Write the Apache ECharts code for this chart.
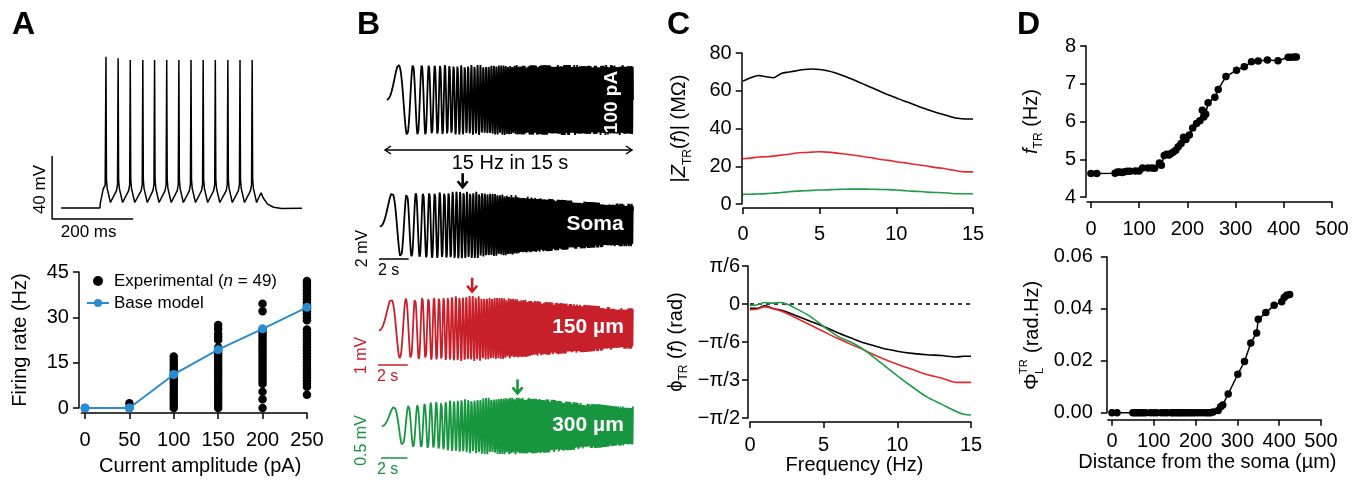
<!DOCTYPE html>
<html>
<head>
<meta charset="utf-8">
<script src="https://cdn.jsdelivr.net/npm/echarts@6/dist/echarts.min.js"></script>
<style>
  html, body { margin: 0; padding: 0; background: #fff; }
  #chart { width: 1365px; height: 481px; }
</style>
</head>
<body>
<div id="chart"></div>
<script>
const FONT = '"Liberation Sans", Arial, Helvetica, sans-serif';
const BLUE = '#2a8bd3';
const RED_TRACE = '#c8202a';
const GREEN_TRACE = '#17953f';
const RED_LINE = '#e8282c';
const GREEN_LINE = '#1e9c48';

// ---------- Panel A (top): somatic voltage during a current step ----------
const spikeTimesMs = [111, 141, 171, 202, 231, 261, 291, 321, 351, 381, 412, 442, 472];
const spikePeaksMv = [26, 25, 24, 24, 24, 24, 24, 24, 24, 24, 24, 24, 24];
const stepOnsetTrace = [[0, -70], [96, -70], [97, -67], [104, -58], [109, -55.5]];
const spikeRiseDtMs = [-4, -1.5];
const spikeRiseMv = [-59, -55];
const spikeFallDtMs = [1.2, 3, 11];
const spikeFallMv = [-52, -57.5, -66.5];
const stepOffsetTrace = [[484, -66], [490, -62.5], [494, -60.3], [499, -63.5], [510, -67.5], [525, -69.5], [545, -70.3], [595, -70.2]];
const scaleBarMv = 40;
const scaleBarMs = 200;
const scaleBarCorner = [-22, -77];

// ---------- Panel A (bottom): firing rate vs injected current ----------
const currentsPA = [0, 50, 100, 150, 200, 250];
const baseModelHz = [0, 0, 11.1, 19.3, 26.2, 33.3];
const exp0pA = [0];
const exp50pA = [0, 1.6];
const exp100pA = [0, 1, 2, 3, 4, 5, 6, 7, 8, 9, 10, 11, 12, 13, 14, 15, 16, 17];
const exp150pA = [0, 1, 2, 3, 4, 5, 6, 7, 8, 9, 10, 11, 12, 13, 14, 15, 16, 17, 18, 19, 20, 22.5, 23.6, 24.6, 26.1, 27.5];
const exp200pA = [0, 2.9, 5.4, 8, 9, 10, 11, 12, 13, 14, 15, 16, 17, 18, 19, 20, 21, 22, 23, 24, 25, 26, 32, 34.5];
const exp250pA = [4.4, 7, 8, 9, 10, 11, 12, 13, 14, 15, 16, 17, 18, 19, 20, 21, 22, 23, 24, 25, 26, 29, 30, 31, 32, 33, 34, 35, 36, 37, 38, 39, 40, 41, 42];
const expColumns = [exp0pA, exp50pA, exp100pA, exp150pA, exp200pA, exp250pA];

// ---------- Panel C: transfer impedance amplitude and phase ----------
const zFreqHz = [0, 0.5, 1, 1.5, 2, 2.5, 3, 3.5, 4, 4.5, 5, 5.5, 6, 6.5, 7, 7.5, 8, 8.5, 9, 9.5, 10, 10.5, 11, 11.5, 12, 12.5, 13, 13.5, 14, 14.5, 15];
const zSomaMOhm = [65.1, 66.9, 68.1, 67.4, 66.9, 69.2, 69.9, 70.6, 71.3, 71.5, 71.3, 70.6, 69.5, 68.1, 66.5, 64.8, 63.0, 61.3, 59.5, 57.8, 56.2, 54.6, 53.1, 51.5, 50.1, 48.7, 47.5, 46.4, 45.4, 45.0, 45.0];
const z150MOhm = [24.0, 24.3, 24.9, 25.0, 25.4, 25.9, 26.4, 27.0, 27.3, 27.5, 27.7, 27.5, 27.1, 26.6, 26.1, 25.6, 24.9, 24.3, 23.6, 23.1, 22.4, 21.9, 21.2, 20.7, 20.1, 19.4, 18.9, 18.2, 17.5, 17.0, 17.0];
const z300MOhm = [5.1, 5.2, 5.3, 5.5, 5.8, 6.1, 6.5, 6.8, 7.0, 7.2, 7.4, 7.5, 7.7, 7.8, 7.9, 7.9, 7.9, 7.8, 7.7, 7.6, 7.4, 7.1, 6.8, 6.6, 6.3, 6.1, 6.0, 5.7, 5.4, 5.4, 5.4];
const phFreqHz = [0, 0.5, 1, 1.5, 2, 2.5, 3, 4, 5, 6, 7, 7.5, 8, 9, 10, 11, 12, 13, 14, 14.5, 15];
const phSomaRad = [-0.06, -0.06, -0.02, -0.06, -0.08, -0.11, -0.15, -0.23, -0.31, -0.40, -0.48, -0.52, -0.55, -0.61, -0.65, -0.68, -0.70, -0.71, -0.73, -0.72, -0.72];
const ph150Rad = [-0.08, -0.07, -0.04, -0.06, -0.09, -0.13, -0.18, -0.28, -0.38, -0.48, -0.57, -0.61, -0.66, -0.75, -0.83, -0.90, -0.97, -1.02, -1.08, -1.08, -1.08];
const ph300Rad = [-0.02, -0.01, 0.02, 0.01, 0.02, 0.00, -0.05, -0.16, -0.31, -0.45, -0.54, -0.60, -0.67, -0.83, -0.99, -1.14, -1.28, -1.38, -1.48, -1.52, -1.53];
const phaseTickLabels = ['−π/2', '−π/3', '−π/6', '0', 'π/6'];

// ---------- Panel B: chirp stimulus and local responses ----------
const chirpSeconds = 15;
const chirpTopHz = 15;
const stimulusPA = 100;
const responsePeakMv = [2.5, 1.32, 0.35];          // soma, 150 µm, 300 µm
const resonanceArrowHz = [4.9, 5.5, 8.1];
const traceLabels = ['Soma', '150 µm', '300 µm'];
const traceScaleMv = [2, 1, 0.5];
const traceScaleSec = 2;
const traceScaleCorner = [[-0.3, -2.52], [-0.3, -1.46], [-0.48, -0.39]];

// ---------- Panel D: resonance frequency and phase lag along the dendrite ----------
const dTopDistUm = [0, 12, 50, 55, 60, 65, 70, 75, 81, 92, 100, 107, 118, 126, 132, 142, 146, 152, 157, 162, 166, 171, 176, 181, 187, 192, 197, 204, 211, 219, 226, 231, 234, 238, 243, 257, 264, 280, 302, 318, 333, 347, 366, 388, 409, 415, 422, 426];
const dTopFreqHz = [4.62, 4.62, 4.63, 4.66, 4.66, 4.65, 4.67, 4.68, 4.68, 4.69, 4.69, 4.77, 4.77, 4.77, 4.76, 4.90, 4.84, 5.10, 5.13, 5.11, 5.15, 5.19, 5.24, 5.33, 5.42, 5.58, 5.52, 5.64, 5.83, 5.95, 6.02, 6.30, 6.12, 6.19, 6.50, 6.64, 6.85, 7.19, 7.36, 7.45, 7.58, 7.60, 7.63, 7.61, 7.70, 7.70, 7.71, 7.71];
const dBotDistUm = [0, 12, 50, 55, 60, 65, 70, 75, 81, 92, 100, 107, 118, 126, 132, 142, 146, 152, 157, 162, 166, 171, 176, 181, 187, 192, 197, 204, 211, 219, 226, 231, 236, 242, 254, 260, 265, 278, 301, 317, 332, 346, 350, 368, 388, 406, 412, 418, 425];
const dBotPhaseLag = [0, 0, 0, 0, 0, 0, 0, 0, 0, 0, 0, 0, 0, 0, 0, 0, 0, 0, 0, 0, 0, 0, 0, 0, 0, 0, 0, 0, 0, 0, 0, 0, 0, 0.0003, 0.0008, 0.0023, 0.003, 0.0072, 0.0148, 0.0197, 0.0268, 0.0307, 0.0359, 0.0385, 0.0413, 0.0427, 0.0443, 0.0452, 0.0455];
const distanceTicks = [0, 100, 200, 300, 400, 500];

// ---------- build series data ----------
const zip = (xs, ys) => xs.map((x, i) => [x, ys[i]]);

const vTrace = stepOnsetTrace.slice();
spikeTimesMs.forEach((ts, i) => {
  if (i > 0) spikeRiseDtMs.forEach((d, k) => vTrace.push([ts + d, spikeRiseMv[k]]));
  vTrace.push([ts, spikePeaksMv[i]]);
  spikeFallDtMs.forEach((d, k) => vTrace.push([ts + d, spikeFallMv[k]]));
});
stepOffsetTrace.forEach(p => vTrace.push(p));

const scaleBarA = [
  [scaleBarCorner[0], scaleBarCorner[1] + scaleBarMv],
  scaleBarCorner,
  [scaleBarCorner[0] + scaleBarMs, scaleBarCorner[1]]
];

const expPoints = [];
expColumns.forEach((col, i) => col.forEach(v => expPoints.push([currentsPA[i], v])));

function lookup(xs, ys, x) {
  if (x <= xs[0]) return ys[0];
  for (let i = 1; i < xs.length; i++) {
    if (x <= xs[i]) {
      const w = (x - xs[i - 1]) / (xs[i] - xs[i - 1]);
      return ys[i - 1] + w * (ys[i] - ys[i - 1]);
    }
  }
  return ys[ys.length - 1];
}

// linear chirp 0 -> chirpTopHz over chirpSeconds; responses use |Z| and phase from panel C
const sweepRate = chirpTopHz / chirpSeconds;
const SAMPLES = 12000;
const stimData = [], respData = [[], [], []];
const zSets = [zSomaMOhm, z150MOhm, z300MOhm];
const phSets = [phSomaRad, ph150Rad, ph300Rad];
const zPeak = zSets.map(z => Math.max.apply(null, z));
for (let n = 0; n <= SAMPLES; n++) {
  const t = n * chirpSeconds / SAMPLES;
  const f = sweepRate * t;
  const phase = Math.PI * sweepRate * t * t;
  stimData.push([t, stimulusPA * Math.sin(phase)]);
  for (let k = 0; k < 3; k++) {
    const amp = responsePeakMv[k] * lookup(zFreqHz, zSets[k], f) / zPeak[k];
    respData[k].push([t, amp * Math.sin(phase + lookup(phFreqHz, phSets[k], f))]);
  }
}

function scaleBar(k) {
  const c = traceScaleCorner[k];
  return [[c[0], c[1] + traceScaleMv[k]], c, [c[0] + traceScaleSec, c[1]]];
}

// ---------- axes ----------
const AX = { color: '#000', width: 1.5 };
function hiddenAxis(grid, min, max) {
  return { gridIndex: grid, type: 'value', min, max, show: false };
}
function visAxis(extra) {
  return Object.assign({
    type: 'value',
    axisLine: { show: true, onZero: false, lineStyle: AX },
    axisTick: { show: true, inside: false, length: 6, lineStyle: AX },
    axisLabel: { color: '#000', fontSize: 20, fontFamily: FONT, margin: 10 },
    splitLine: { show: false },
    nameLocation: 'middle',
    nameTextStyle: { color: '#000', fontSize: 20, fontFamily: FONT, lineHeight: 28 }
  }, extra);
}
const subRich = {
  i: { fontStyle: 'italic', fontSize: 20, lineHeight: 28, fontFamily: FONT, color: '#000' },
  sub: { fontSize: 12, lineHeight: 12, verticalAlign: 'bottom', fontFamily: FONT, color: '#000' }
};

const grids = [
  { left: 50.9, top: 50.5, width: 253.1, height: 173.25 },
  { left: 81.45, top: 272, width: 225.5, height: 136 },
  { left: 387, top: 65, width: 246, height: 70 },
  { left: 380, top: 188.5, width: 253, height: 72.9 },
  { left: 379, top: 292.25, width: 254, height: 72.5 },
  { left: 382, top: 393.2, width: 251, height: 65.6 },
  { left: 743, top: 53, width: 230, height: 151 },
  { left: 750, top: 266, width: 221, height: 152 },
  { left: 1087.1, top: 46, width: 244.9, height: 151 },
  { left: 1107.8, top: 256.7, width: 213.2, height: 156 }
];

const xAxes = [
  hiddenAxis(0, -25, 600),
  visAxis({ gridIndex: 1, min: -4, max: 250, offset: 5,
    axisTick: { show: true, length: 6, lineStyle: AX, customValues: currentsPA },
    axisLabel: { color: '#000', fontSize: 20, fontFamily: FONT, margin: 17, customValues: currentsPA },
    name: 'Current amplitude (pA)', nameGap: 43,
    nameTextStyle: { color: '#000', fontSize: 20, fontFamily: FONT, padding: [0, 0, 0, 12] } }),
  hiddenAxis(2, 0, chirpSeconds),
  hiddenAxis(3, 0, chirpSeconds),
  hiddenAxis(4, 0, chirpSeconds),
  hiddenAxis(5, 0, chirpSeconds),
  visAxis({ gridIndex: 6, min: 0, max: 15, interval: 5, offset: 4,
    axisLabel: { color: '#000', fontSize: 20, fontFamily: FONT, margin: 16 } }),
  visAxis({ gridIndex: 7, min: 0, max: 15, interval: 5, offset: 4,
    axisLabel: { color: '#000', fontSize: 20, fontFamily: FONT, margin: 13 },
    name: 'Frequency (Hz)', nameGap: 33,
    nameTextStyle: { color: '#000', fontSize: 20, fontFamily: FONT, padding: [0, 12, 0, 0] } }),
  visAxis({ gridIndex: 8, min: -8, max: 500, offset: 5,
    axisTick: { show: true, length: 6, lineStyle: AX, customValues: distanceTicks },
    axisLabel: { color: '#000', fontSize: 20, fontFamily: FONT, margin: 17, customValues: distanceTicks } }),
  visAxis({ gridIndex: 9, min: -10, max: 500, offset: 7,
    axisTick: { show: true, length: 6, lineStyle: AX, customValues: distanceTicks },
    axisLabel: { color: '#000', fontSize: 20, fontFamily: FONT, margin: 12, customValues: distanceTicks },
    name: 'Distance from the soma (µm)', nameGap: 32,
    nameTextStyle: { color: '#000', fontSize: 20, fontFamily: FONT, padding: [0, 14, 0, 0] } })
];

const yAxes = [
  hiddenAxis(0, -80, 30),
  visAxis({ gridIndex: 1, min: 0, max: 45, interval: 15, offset: 2.5,
    name: 'Firing rate (Hz)', nameGap: 44 }),
  hiddenAxis(2, -stimulusPA, stimulusPA),
  hiddenAxis(3, -2.7, 2.7),
  hiddenAxis(4, -1.45, 1.45),
  hiddenAxis(5, -0.4, 0.4),
  visAxis({ gridIndex: 6, min: 0, max: 80, interval: 20, offset: 1.3,
    name: '|{i|Z}{sub|TR}({i|f})| (MΩ)', nameGap: 48,
    nameTextStyle: { color: '#000', fontSize: 20, fontFamily: FONT, lineHeight: 28, rich: subRich } }),
  visAxis({ gridIndex: 7, min: -Math.PI / 2, max: Math.PI / 6, interval: Math.PI / 6, offset: 2,
    axisLabel: { color: '#000', fontSize: 20, fontFamily: FONT, margin: 8,
      formatter: v => phaseTickLabels[Math.round(v / (Math.PI / 6)) + 3] },
    name: 'ϕ{sub|TR} ({i|f}) (rad)', nameGap: 58,
    nameTextStyle: { color: '#000', fontSize: 20, fontFamily: FONT, lineHeight: 28, rich: subRich } }),
  visAxis({ gridIndex: 8, min: 4, max: 8, interval: 1, offset: 1,
    name: '{i|f}{sub|TR} (Hz)', nameGap: 41,
    nameTextStyle: { color: '#000', fontSize: 20, fontFamily: FONT, lineHeight: 28, rich: subRich } }),
  visAxis({ gridIndex: 9, min: 0, max: 0.06, interval: 0.02, offset: 1,
    axisLabel: { color: '#000', fontSize: 20, fontFamily: FONT, margin: 14, formatter: v => v.toFixed(2) } })
];

// ---------- series ----------
const lineBase = { type: 'line', showSymbol: false, symbol: 'none', animation: false, clip: false };
const TRACE_W = 1.8;
const series = [
  Object.assign({}, lineBase, { xAxisIndex: 0, yAxisIndex: 0, data: vTrace, lineStyle: { color: '#000', width: 1.5 } }),
  Object.assign({}, lineBase, { xAxisIndex: 0, yAxisIndex: 0, data: scaleBarA, lineStyle: { color: '#000', width: 1.5 } }),
  { name: 'Experimental (n = 49)', type: 'scatter', xAxisIndex: 1, yAxisIndex: 1, data: expPoints,
    symbolSize: 8.5, itemStyle: { color: '#000', opacity: 1 }, clip: false, animation: false, z: 3 },
  { name: 'Base model', type: 'line', xAxisIndex: 1, yAxisIndex: 1, data: zip(currentsPA, baseModelHz),
    symbol: 'circle', symbolSize: 9, showSymbol: true, clip: false, animation: false, z: 4,
    lineStyle: { color: BLUE, width: 2 }, itemStyle: { color: BLUE, opacity: 1 } },
  Object.assign({}, lineBase, { xAxisIndex: 2, yAxisIndex: 2, data: stimData, lineStyle: { color: '#000', width: TRACE_W } }),
  Object.assign({}, lineBase, { xAxisIndex: 3, yAxisIndex: 3, data: respData[0], lineStyle: { color: '#000', width: TRACE_W } }),
  Object.assign({}, lineBase, { xAxisIndex: 4, yAxisIndex: 4, data: respData[1], lineStyle: { color: RED_TRACE, width: TRACE_W } }),
  Object.assign({}, lineBase, { xAxisIndex: 5, yAxisIndex: 5, data: respData[2], lineStyle: { color: GREEN_TRACE, width: TRACE_W } }),
  Object.assign({}, lineBase, { xAxisIndex: 3, yAxisIndex: 3, data: scaleBar(0), lineStyle: { color: '#000', width: 1.5 } }),
  Object.assign({}, lineBase, { xAxisIndex: 4, yAxisIndex: 4, data: scaleBar(1), lineStyle: { color: RED_TRACE, width: 1.5 } }),
  Object.assign({}, lineBase, { xAxisIndex: 5, yAxisIndex: 5, data: scaleBar(2), lineStyle: { color: GREEN_TRACE, width: 1.5 } }),
  Object.assign({}, lineBase, { xAxisIndex: 6, yAxisIndex: 6, data: zip(zFreqHz, zSomaMOhm), smooth: 0.3, lineStyle: { color: '#000', width: 1.6 } }),
  Object.assign({}, lineBase, { xAxisIndex: 6, yAxisIndex: 6, data: zip(zFreqHz, z150MOhm), smooth: 0.3, lineStyle: { color: RED_LINE, width: 1.6 } }),
  Object.assign({}, lineBase, { xAxisIndex: 6, yAxisIndex: 6, data: zip(zFreqHz, z300MOhm), smooth: 0.3, lineStyle: { color: GREEN_LINE, width: 1.6 } }),
  Object.assign({}, lineBase, { xAxisIndex: 7, yAxisIndex: 7, data: [[0, 0], [15, 0]], lineStyle: { color: '#000', width: 1.5, type: [4, 4] } }),
  Object.assign({}, lineBase, { xAxisIndex: 7, yAxisIndex: 7, data: zip(phFreqHz, phSomaRad), smooth: 0.3, lineStyle: { color: '#000', width: 1.6 } }),
  Object.assign({}, lineBase, { xAxisIndex: 7, yAxisIndex: 7, data: zip(phFreqHz, ph150Rad), smooth: 0.3, lineStyle: { color: RED_LINE, width: 1.6 } }),
  Object.assign({}, lineBase, { xAxisIndex: 7, yAxisIndex: 7, data: zip(phFreqHz, ph300Rad), smooth: 0.3, lineStyle: { color: GREEN_LINE, width: 1.6 } }),
  { type: 'line', xAxisIndex: 8, yAxisIndex: 8, data: zip(dTopDistUm, dTopFreqHz), symbol: 'circle', symbolSize: 7.5,
    showSymbol: true, animation: false, clip: false, lineStyle: { color: '#000', width: 1.5 }, itemStyle: { color: '#000' } },
  { type: 'line', xAxisIndex: 9, yAxisIndex: 9, data: zip(dBotDistUm, dBotPhaseLag), symbol: 'circle', symbolSize: 7.5,
    showSymbol: true, animation: false, clip: false, lineStyle: { color: '#000', width: 1.5 }, itemStyle: { color: '#000' } }
];

const chart = echarts.init(document.getElementById('chart'), null, { renderer: 'canvas' });
chart.setOption({
  animation: false,
  backgroundColor: '#fff',
  textStyle: { fontFamily: FONT },
  grid: grids,
  xAxis: xAxes,
  yAxis: yAxes,
  legend: {
    data: [{ name: 'Experimental (n = 49)', icon: 'circle' }, { name: 'Base model' }],
    orient: 'vertical', left: 81, top: 267, padding: 5, itemWidth: 22, itemHeight: 10, itemGap: 4,
    textStyle: { fontSize: 17, color: '#000', fontFamily: FONT, lineHeight: 18,
      rich: { i: { fontStyle: 'italic', fontSize: 17, fontFamily: FONT, color: '#000' } } },
    formatter: n => n.replace('(n', '({i|n}'),
    selectedMode: false
  },
  series
});

// ---------- annotations placed through the grids' own coordinate systems ----------
const px = (g, p) => chart.convertToPixel({ gridIndex: g }, p);
const graphics = [];
function txt(x, y, text, style, rotation) {
  graphics.push({ type: 'text', x, y, z: 100, rotation: rotation || 0, silent: true,
    style: Object.assign({ text, fill: '#000', font: '20px ' + FONT, textAlign: 'center', textVerticalAlign: 'middle' }, style) });
}
function downArrow(x, yTip, color) {
  graphics.push({ type: 'group', x, y: yTip, z: 100, silent: true, children: [
    { type: 'line', z: 100, shape: { x1: 0, y1: -14, x2: 0, y2: -1 }, style: { stroke: color, lineWidth: 2.6 } },
    { type: 'polyline', z: 100, shape: { points: [[-5, -6], [0, 0], [5, -6]] }, style: { stroke: color, lineWidth: 2.6, fill: null } }
  ] });
}

// panel letters
[['A', 12], ['B', 357], ['C', 667], ['D', 1017]].forEach(([l, x]) =>
  txt(x, 25, l, { font: 'bold 32px ' + FONT, textAlign: 'left' }));

// A scale-bar labels
const aCorner = px(0, scaleBarCorner);
const aTop = px(0, [scaleBarCorner[0], scaleBarCorner[1] + scaleBarMv]);
const aRight = px(0, [scaleBarCorner[0] + scaleBarMs, scaleBarCorner[1]]);
txt(aCorner[0] - 12, (aCorner[1] + aTop[1]) / 2 + 2, scaleBarMv + ' mV', { font: '17px ' + FONT }, Math.PI / 2);
txt((aCorner[0] + aRight[0]) / 2 - 4, aCorner[1] + 13, scaleBarMs + ' ms', { font: '17px ' + FONT });

// B stimulus annotations
const s0 = px(2, [0, 0]), s1 = px(2, [chirpSeconds, 0]);
const arrowY = px(2, [0, -stimulusPA])[1] + 15;
graphics.push({ type: 'group', z: 100, silent: true, children: [
  { type: 'line', shape: { x1: s0[0] - 2, y1: arrowY, x2: s1[0] - 1, y2: arrowY }, style: { stroke: '#000', lineWidth: 1.5 } },
  { type: 'polyline', shape: { points: [[s0[0] + 4, arrowY - 4], [s0[0] - 2, arrowY], [s0[0] + 4, arrowY + 4]] }, style: { stroke: '#000', lineWidth: 1.5, fill: null } },
  { type: 'polyline', shape: { points: [[s1[0] - 7, arrowY - 4], [s1[0] - 1, arrowY], [s1[0] - 7, arrowY + 4]] }, style: { stroke: '#000', lineWidth: 1.5, fill: null } }
] });
txt((s0[0] + s1[0]) / 2, arrowY + 13, chirpTopHz + ' Hz in ' + chirpSeconds + ' s', { font: '20px ' + FONT });
txt(s1[0] - 21, s0[1] + 2, stimulusPA + ' pA', { font: 'bold 19px ' + FONT, fill: '#fff' }, Math.PI / 2);

// B response annotations
const traceColors = ['#000', RED_TRACE, GREEN_TRACE];
const labelShift = [-38, -45, -45];
for (let k = 0; k < 3; k++) {
  const g = 3 + k;
  const mid = px(g, [chirpSeconds, 0]);
  txt(mid[0] + labelShift[k], mid[1] - 1, traceLabels[k], { font: 'bold 21px ' + FONT, fill: '#fff' });
  const ampAt = responsePeakMv[k] * lookup(zFreqHz, zSets[k], resonanceArrowHz[k]) / zPeak[k];
  const tip = px(g, [resonanceArrowHz[k] / sweepRate, ampAt]);
  downArrow(tip[0], tip[1] - 4, traceColors[k]);
  const c = traceScaleCorner[k];
  const cp = px(g, c), tp = px(g, [c[0], c[1] + traceScaleMv[k]]);
  txt(cp[0] - 12, (cp[1] + tp[1]) / 2 + 3, traceScaleMv[k] + ' mV', { font: '16px ' + FONT, fill: traceColors[k] }, Math.PI / 2);
  txt(cp[0] + 3, cp[1] + 12, traceScaleSec + ' s', { font: '16px ' + FONT, fill: traceColors[k], textAlign: 'left' });
}

// D lower y-axis title with stacked indices
graphics.push({ type: 'group', x: 1032, y: 390, z: 100, rotation: Math.PI / 2, silent: true, children: [
  { type: 'text', x: 0, y: 0, style: { text: 'Φ', font: '21px ' + FONT, fill: '#000', textAlign: 'left', textVerticalAlign: 'middle' } },
  { type: 'text', x: 16, y: -8, style: { text: 'TR', font: '11px ' + FONT, fill: '#000', textAlign: 'left', textVerticalAlign: 'middle' } },
  { type: 'text', x: 16, y: 8, style: { text: 'L', font: '11px ' + FONT, fill: '#000', textAlign: 'left', textVerticalAlign: 'middle' } },
  { type: 'text', x: 37, y: 0, style: { text: '(rad.Hz)', font: '20px ' + FONT, fill: '#000', textAlign: 'left', textVerticalAlign: 'middle' } }
] });

chart.setOption({ graphic: graphics });
</script>
</body>
</html>
